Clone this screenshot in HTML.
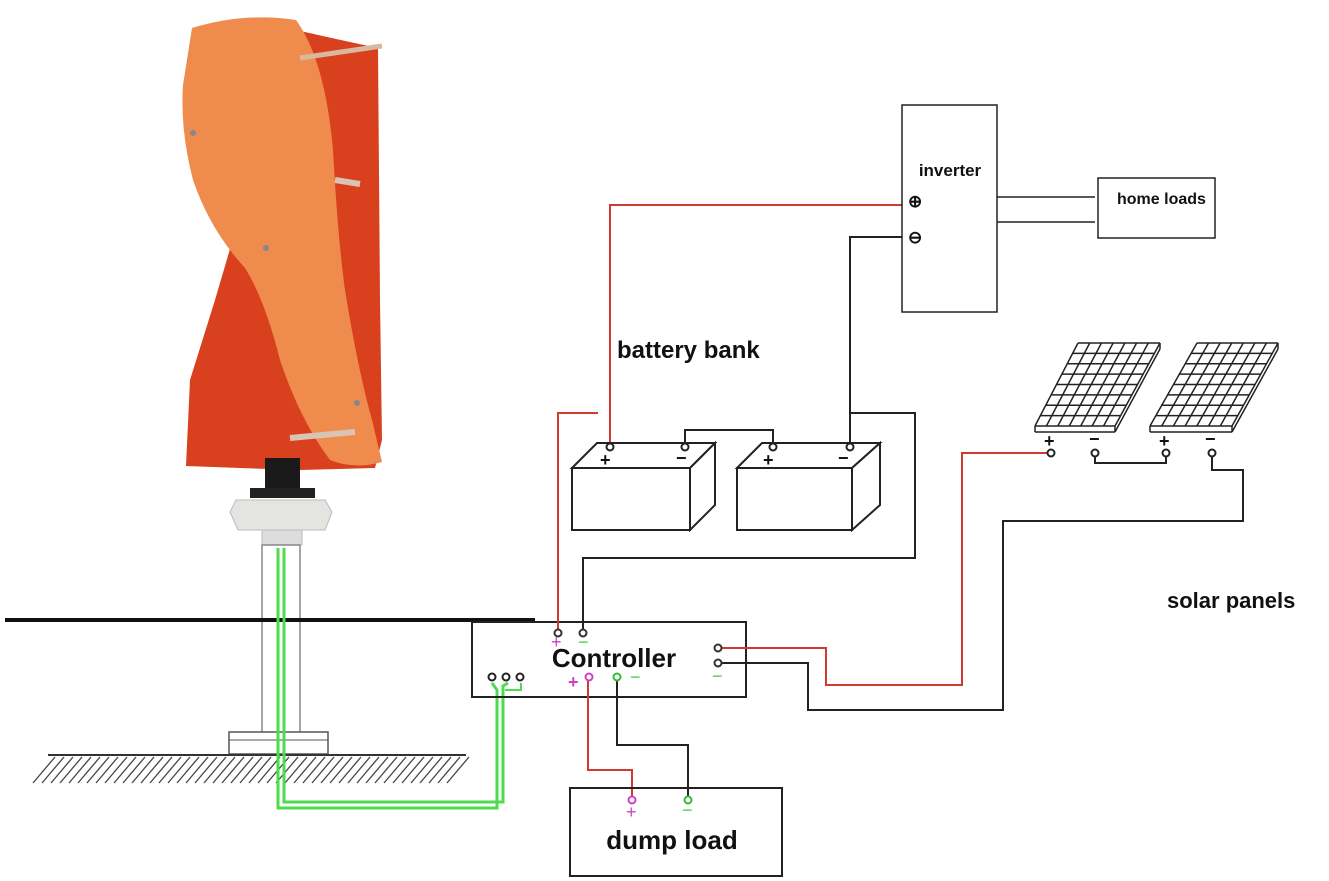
<!DOCTYPE html>
<html><head><meta charset="utf-8"><style>
html,body{margin:0;padding:0;background:#fff;}
svg{display:block;}
text{font-family:"Liberation Sans",sans-serif;font-weight:bold;fill:#111;}
</style></head><body>
<svg id="s" width="1329" height="881" viewBox="0 0 1329 881" xmlns="http://www.w3.org/2000/svg">
<!-- turbine back blade (red) -->
<path d="M296,30 Q340,40 378,48 L380,300 L382,440 L375,468 L300,470 L240,468 L186,466 L190,380 L215,300 L235,232 L300,200 Z" fill="#d8401e"/>
<!-- front blade (orange) -->
<path d="M192,28 Q245,12 296,20 Q325,60 333,150 Q338,240 345,290 Q358,370 372,420 L382,462 Q355,470 330,460 Q300,420 280,360 Q265,300 245,268 Q210,230 193,180 Q180,130 183,85 Z" fill="#ef8b4d"/>
<line x1="300" y1="58" x2="382" y2="46" stroke="#d9b8a0" stroke-width="5"/>
<line x1="335" y1="180" x2="360" y2="184" stroke="#d9c4b4" stroke-width="6"/>
<line x1="290" y1="438" x2="355" y2="432" stroke="#d9c4b4" stroke-width="6"/>
<circle cx="193" cy="133" r="3" fill="#888"/><circle cx="266" cy="248" r="3" fill="#888"/><circle cx="357" cy="403" r="3" fill="#888"/>
<!-- hub/generator -->
<rect x="265" y="458" width="35" height="35" fill="#1a1a1a"/>
<rect x="250" y="488" width="65" height="10" fill="#222"/>
<path d="M236,500 L325,500 L332,512 L325,530 L238,530 L230,512 Z" fill="#e4e4e0" stroke="#bbb"/>
<rect x="262" y="530" width="40" height="15" fill="#ddd" stroke="#bbb"/>
<!-- pole -->
<rect x="262" y="545" width="38" height="195" fill="#fff" stroke="#888" stroke-width="1.5"/>
<line x1="5" y1="620" x2="535" y2="620" stroke="#111" stroke-width="4"/>
<rect x="229" y="732" width="99" height="22" fill="#fff" stroke="#555" stroke-width="1.5"/>
<line x1="229" y1="740" x2="328" y2="740" stroke="#555"/>
<line x1="48" y1="755" x2="466" y2="755" stroke="#333" stroke-width="2"/>
<g id="hatch" stroke="#444" stroke-width="1.3"></g>
<polyline points="278,548 278,808 497,808 497,690 492,683" fill="none" stroke="#4ddc4d" stroke-width="3"/>
<polyline points="284,548 284,802 503,802 503,686 508,683" fill="none" stroke="#4ddc4d" stroke-width="3"/>
<polyline points="505,690 521,690 521,683" fill="none" stroke="#4ddc4d" stroke-width="2"/>
<rect x="472" y="622" width="274" height="75" fill="none" stroke="#222" stroke-width="2"/>
<text x="614" y="667" font-size="26" text-anchor="middle">Controller</text>
<polyline points="598,413 558,413 558,630" fill="none" stroke="#d03a30" stroke-width="2"/>
<polyline points="583,630 583,558 915,558 915,413 850,413" fill="none" stroke="#222" stroke-width="2"/>
<polyline points="610,444 610,205 902,205" fill="none" stroke="#d03a30" stroke-width="2"/>
<polyline points="850,444 850,237 908,237" fill="none" stroke="#222" stroke-width="2"/>
<polyline points="685,444 685,430 773,430 773,444" fill="none" stroke="#222" stroke-width="2"/>
<g fill="#fff" stroke="#222" stroke-width="2">
<path d="M572,468 L597,443 L715,443 L690,468 Z"/><rect x="572" y="468" width="118" height="62"/><path d="M690,468 L715,443 L715,505 L690,530 Z"/>
<path d="M737,468 L762,443 L880,443 L852,468 Z"/><rect x="737" y="468" width="115" height="62"/><path d="M852,468 L880,443 L880,505 L852,530 Z"/>
</g>
<g font-size="18" fill="#222"><text x="600" y="466" font-weight="normal">+</text><text x="676" y="464" font-weight="normal">−</text><text x="763" y="466" font-weight="normal">+</text><text x="838" y="464" font-weight="normal">−</text></g>
<text x="617" y="358" font-size="24">battery bank</text>
<rect x="902" y="105" width="95" height="207" fill="#fff" stroke="#222" stroke-width="1.5"/>
<text x="950" y="176" font-size="17" text-anchor="middle">inverter</text>
<text x="908" y="207" font-size="17" font-weight="normal">⊕</text>
<text x="908" y="243" font-size="17" font-weight="normal">⊖</text>
<line x1="997" y1="197" x2="1095" y2="197" stroke="#222" stroke-width="1.5"/>
<line x1="997" y1="222" x2="1095" y2="222" stroke="#222" stroke-width="1.5"/>
<rect x="1098" y="178" width="117" height="60" fill="none" stroke="#222" stroke-width="1.5"/>
<text x="1117" y="204" font-size="16" font-family="Liberation Serif">home loads</text>
<g id="panels" fill="none" stroke="#222" stroke-width="1.5"></g>
<g font-size="18" fill="#222"><text x="1044" y="447" font-weight="normal">+</text><text x="1089" y="445" font-weight="normal">−</text><text x="1159" y="447" font-weight="normal">+</text><text x="1205" y="445" font-weight="normal">−</text></g>
<polyline points="1095,456 1095,463 1166,463 1166,456" fill="none" stroke="#222" stroke-width="2"/>
<polyline points="1212,456 1212,470 1243,470 1243,521 1003,521 1003,710 808,710 808,663 722,663" fill="none" stroke="#222" stroke-width="2"/>
<polyline points="1048,453 962,453 962,685 826,685 826,648 722,648" fill="none" stroke="#d03a30" stroke-width="2"/>
<text x="1167" y="608" font-size="22">solar panels</text>
<polyline points="588,680 588,770 632,770 632,797" fill="none" stroke="#d03a30" stroke-width="2"/>
<polyline points="617,680 617,745 688,745 688,797" fill="none" stroke="#222" stroke-width="2"/>
<rect x="570" y="788" width="212" height="88" fill="none" stroke="#222" stroke-width="2"/>
<text x="672" y="849" font-size="26" text-anchor="middle">dump load</text>
<g fill="#fff" stroke-width="2">
<circle cx="558" cy="633" r="3.5" stroke="#333"/><circle cx="583" cy="633" r="3.5" stroke="#333"/>
<circle cx="718" cy="648" r="3.5" stroke="#333"/><circle cx="718" cy="663" r="3.5" stroke="#333"/>
<circle cx="492" cy="677" r="3.5" stroke="#222"/><circle cx="506" cy="677" r="3.5" stroke="#222"/><circle cx="520" cy="677" r="3.5" stroke="#222"/>
<circle cx="589" cy="677" r="3.5" stroke="#d040c0"/><circle cx="617" cy="677" r="3.5" stroke="#33bb33"/>
<circle cx="632" cy="800" r="3.5" stroke="#d040c0"/><circle cx="688" cy="800" r="3.5" stroke="#33bb33"/>
<circle cx="610" cy="447" r="3.5" stroke="#222"/><circle cx="685" cy="447" r="3.5" stroke="#222"/><circle cx="773" cy="447" r="3.5" stroke="#222"/><circle cx="850" cy="447" r="3.5" stroke="#222"/>
<circle cx="1051" cy="453" r="3.5" stroke="#222"/><circle cx="1095" cy="453" r="3.5" stroke="#222"/><circle cx="1166" cy="453" r="3.5" stroke="#222"/><circle cx="1212" cy="453" r="3.5" stroke="#222"/>
</g>
<g font-size="18">
<text x="551" y="648" style="fill:#d040c0;font-weight:normal">+</text><text x="578" y="648" style="fill:#44cc44;font-weight:normal">−</text>
<text x="568" y="688" style="fill:#d040c0">+</text><text x="630" y="683" style="fill:#44cc44;font-weight:normal">−</text>
<text x="712" y="682" style="fill:#44cc44;font-weight:normal">−</text>
<text x="626" y="818" style="fill:#d040c0;font-weight:normal">+</text><text x="682" y="816" style="fill:#44cc44;font-weight:normal">−</text>
</g>
</svg>
<script>
var ns="http://www.w3.org/2000/svg",h=document.getElementById('hatch');
for(var x=55;x<=470;x+=9){var l=document.createElementNS(ns,'line');l.setAttribute('x1',x);l.setAttribute('y1',757);l.setAttribute('x2',x-22);l.setAttribute('y2',783);h.appendChild(l);}
var p=document.getElementById('panels');
function panel(tl,tr,bl,br){
 function L(a,b){var l=document.createElementNS(ns,'line');l.setAttribute('x1',a[0]);l.setAttribute('y1',a[1]);l.setAttribute('x2',b[0]);l.setAttribute('y2',b[1]);p.appendChild(l);}
 function lerp(a,b,t){return[a[0]+(b[0]-a[0])*t,a[1]+(b[1]-a[1])*t];}
 for(var i=0;i<=7;i++){var t=i/7;L(lerp(tl,tr,t),lerp(bl,br,t));}
 for(var j=0;j<=8;j++){var t=j/8;L(lerp(tl,bl,t),lerp(tr,br,t));}
 L([bl[0],bl[1]+6],[br[0],br[1]+6]);L(bl,[bl[0],bl[1]+6]);L(br,[br[0],br[1]+6]);L(tr,[tr[0],tr[1]+6]);L([tr[0],tr[1]+6],[br[0],br[1]+6]);
}
panel([1078,343],[1160,343],[1035,426],[1115,426]);
panel([1197,343],[1278,343],[1150,426],[1232,426]);
</script>
</body></html>
